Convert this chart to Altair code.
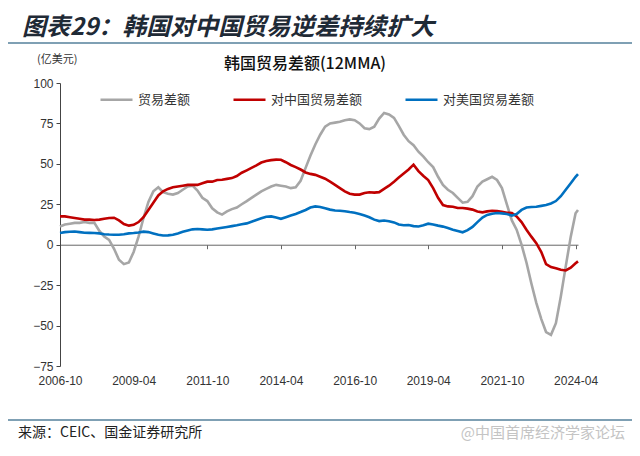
import altair as alt
import pandas as pd

# ---------------- data ----------------
series_names = ["贸易差额", "对中国贸易差额", "对美国贸易差额"]
series_colors = ["#a6a6a6", "#c00000", "#0070c0"]

# every second month 2006-10 ... 2024-04, plus 2024-05
months = [d.strftime("%Y/%m/01") for d in pd.date_range("2006-10-01", "2024-04-01", freq="2MS")] + ["2024/05/01"]

total = [
    11.3, 12.5, 13, 13.5, 13.5, 14, 13.5, 13.5, 8.5, 5,
    3, -2.5, -9.3, -12, -11, -4.5, 5, 16.5, 26.5, 33,
    35.5, 32.5, 31.5, 31, 32, 34, 36, 36.5, 33.5, 29,
    27, 22.5, 20, 18.6, 20.6, 22, 23, 25, 27, 29,
    31, 33, 34.5, 36, 37, 36.5, 36, 35, 35.5, 39.5,
    47.5, 55, 62, 68, 73, 75, 75.5, 76, 77, 77.5,
    77, 75, 72, 71.5, 73, 78, 81.5, 80.5, 78.4, 73.5,
    68, 64, 61.5, 57.5, 54.5, 51, 48, 42, 37, 34,
    32, 29, 26, 26.5, 30, 36, 39, 40.5, 42, 40,
    35, 25, 15, 9.3, 0, -11, -24, -36, -46, -54,
    -55.7, -48.5, -32, -13.4, 5, 19.5, 21.5,
]

china = [
    17.5, 17.5, 17, 16.5, 16, 15.5, 15.5, 15.3, 15.5, 16,
    16.5, 16.7, 15, 12.8, 11.8, 12.3, 14, 17, 21.5, 26,
    30.5, 33, 34.5, 35.5, 36, 36.5, 37, 37, 37, 38,
    39, 39, 40, 40.2, 40.7, 41.2, 42.5, 44.5, 46, 47.5,
    49, 50.8, 51.8, 52.3, 52.6, 52.5, 51, 49.3, 48, 46.5,
    44.7, 43.8, 43.2, 42, 40.8, 39, 37, 35, 33, 31.5,
    31, 31, 32, 32.4, 32.2, 32.5, 34.5, 36.5, 39, 41.5,
    44, 46.5, 49.5, 45.5, 42.5, 40, 35, 29, 24.5, 23.7,
    23.5, 22.7, 22.7, 22.3, 21.7, 20.5, 20, 20.6, 21, 20.8,
    20.4, 19.8, 19.6, 17.5, 14, 9.3, 5, 1, -4.5, -12,
    -13.8, -14.5, -15.5, -15.9, -14.2, -11.5, -10.3,
]

usa = [
    7.3, 7.8, 8, 8.2, 7.8, 7.4, 7.3, 7.2, 7, 6.5,
    6.3, 6.2, 6.2, 6.5, 7, 7.2, 7.6, 8.1, 7.8, 7,
    6.2, 5.7, 5.8, 6.2, 7, 8, 8.8, 9.5, 9.7, 9.5,
    9.3, 9.5, 10, 10.5, 11, 11.5, 12, 12.6, 13.2, 14.2,
    15.3, 16.3, 17.3, 17.5, 16.8, 16, 17, 18, 19, 20.2,
    21.5, 23, 23.7, 23.3, 22.5, 21.7, 21.2, 21, 20.7, 20.2,
    19.8, 19, 18, 17, 15.5, 14.6, 15, 14.5, 13.8, 12.5,
    12, 12.2, 11.5, 11.3, 12, 13, 12.5, 11.8, 11.2, 10.3,
    9.3, 8.5, 7.7, 9, 11, 14, 16.8, 18.4, 19.2, 19.6,
    19.4, 19, 18, 19, 21.5, 23, 23.3, 23.5, 24, 24.5,
    25.5, 27, 30, 34, 38, 42, 43.7,
]

y_ticks = [100, 75, 50, 25, 0, -25, -50, -75]
x_tick_labels = ["2006-10", "2009-04", "2011-10", "2014-04",
                 "2016-10", "2019-04", "2021-10", "2024-04"]

main_title = "图表29：韩国对中国贸易逆差持续扩大"
chart_title = "韩国贸易差额(12MMA)"
unit_label = "(亿美元)"
source_text = "来源：CEIC、国金证券研究所"
watermark = "@中国首席经济学家论坛"

assert len(months) == len(total) == len(china) == len(usa)

rows = []
for name, vals in zip(series_names, [total, china, usa]):
    for d, v in zip(months, vals):
        rows.append({"date": d, "value": v, "series": name})
df = pd.DataFrame(rows)

# ---------------- layout ----------------
W, H = 518, 283
zero_from_bottom = H * 75 / 175

x_vals = [alt.DateTime(year=int(s[:4]), month=int(s[5:]), date=1) for s in x_tick_labels]

lines = alt.Chart(df).mark_line(strokeWidth=2.6).encode(
    x=alt.X("date:T",
            scale=alt.Scale(domain=[alt.DateTime(year=2006, month=10, date=1),
                                    alt.DateTime(year=2024, month=5, date=1)]),
            axis=alt.Axis(values=x_vals, format="%Y-%m", title=None,
                          offset=-zero_from_bottom, labelPadding=zero_from_bottom + 5,
                          tickSize=4, labelAngle=0, labelFlush=False,
                          labelOverlap=False, domainColor="#666", tickColor="#666")),
    y=alt.Y("value:Q",
            scale=alt.Scale(domain=[-75, 100], nice=False, zero=False),
            axis=alt.Axis(values=y_ticks, title=None, tickSize=4, labelPadding=3,
                          domainColor="#444", tickColor="#444")),
    color=alt.Color("series:N",
                    scale=alt.Scale(domain=series_names, range=series_colors),
                    sort=series_names,
                    legend=alt.Legend(title=None, orient="none", legendX=39, legendY=-1,
                                      direction="horizontal", symbolType="stroke",
                                      symbolSize=1024, symbolStrokeWidth=2.5,
                                      labelFontSize=13, labelFont="Noto Sans CJK SC",
                                      labelColor="#333", columnPadding=37,
                                      labelOffset=4)),
)


def note(text, x, y, **kw):
    return alt.Chart(pd.DataFrame({"t": [text]})).mark_text(**kw).encode(
        text="t:N", x=alt.value(x), y=alt.value(y))


def hline(x1, x2, y, color):
    return alt.Chart(pd.DataFrame({"a": [0]})).mark_rule(color=color, strokeWidth=1.5).encode(
        x=alt.value(x1), x2=alt.value(x2), y=alt.value(y))


title_layer = note(main_title, -38, -55, align="left", baseline="middle",
                   font="Noto Sans CJK SC", fontSize=24, fontWeight="bold",
                   fontStyle="italic", color="#1f2a36")
title_rule = hline(-52, 572, -40, "#55809b")
chart_title_layer = note(chart_title, 245, -19, align="center", baseline="middle",
                         font="Noto Sans CJK SC", fontSize=16, fontWeight=500, color="#111")
unit_layer = note(unit_label, -23, -23, align="left", baseline="middle",
                  font="Noto Sans CJK SC", fontSize=11, color="#333")
footer_rule = hline(-52, 572, 337, "#55809b")
source_layer = note(source_text, -42, 350, align="left", baseline="middle",
                    font="Noto Sans CJK SC", fontSize=14, color="#222")
wm_layer = note(watermark, 565, 350, align="right", baseline="middle",
                font="Noto Sans CJK SC", fontSize=15, color="#c4c4c4")

chart = alt.layer(
    lines, title_layer, title_rule, chart_title_layer, unit_layer,
    footer_rule, source_layer, wm_layer,
).properties(
    width=W, height=H,
    autosize=alt.AutoSizeParams(type="none"),
    padding={"left": 52, "top": 75, "right": 54, "bottom": 80},
).configure_view(stroke=None).configure_axis(
    grid=False, labelFont="Liberation Sans", labelFontSize=12, labelColor="#333",
)

chart.save("out.html", embed_options={"renderer": "svg", "actions": False})
